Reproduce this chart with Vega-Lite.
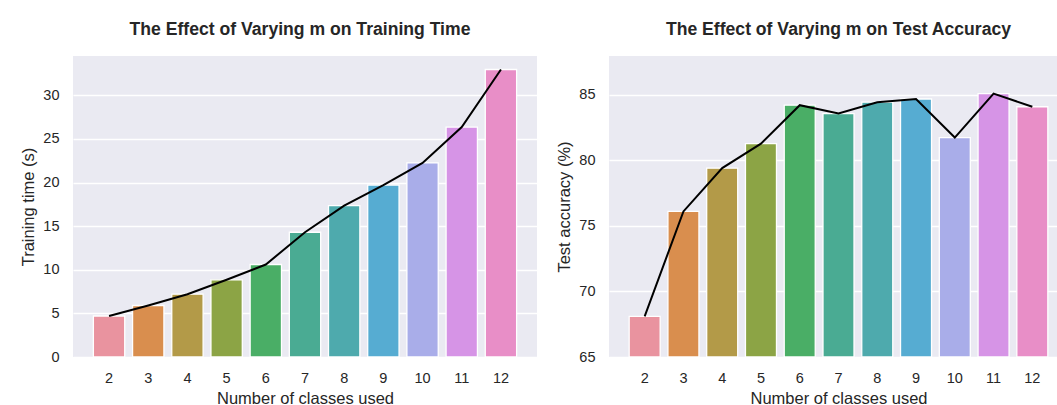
{
  "$schema": "https://vega.github.io/schema/vega-lite/v6.json",
  "padding": {"left": 20, "top": 21, "right": 0, "bottom": 0},
  "background": "white",
  "spacing": 19,
  "datasets": {
    "runs": [
      {"m": 2, "time": 4.7, "acc": 68.1},
      {"m": 3, "time": 5.9, "acc": 76.1},
      {"m": 4, "time": 7.2, "acc": 79.4},
      {"m": 5, "time": 8.85, "acc": 81.27},
      {"m": 6, "time": 10.6, "acc": 84.2},
      {"m": 7, "time": 14.3, "acc": 83.56},
      {"m": 8, "time": 17.35, "acc": 84.43},
      {"m": 9, "time": 19.7, "acc": 84.67},
      {"m": 10, "time": 22.25, "acc": 81.73},
      {"m": 11, "time": 26.35, "acc": 85.08},
      {"m": 12, "time": 32.95, "acc": 84.08}
    ]
  },
  "hconcat": [
    {
      "width": 464,
      "height": 301,
      "title": {"text": "The Effect of Varying m on Training Time", "dx": -5},
      "data": {"name": "runs"},
      "encoding": {
        "x": {
          "field": "m", "type": "ordinal", "title": "Number of classes used",
          "scale": {"paddingInner": 0.2, "paddingOuter": 0.52},
          "axis": {"labelAngle": 0}
        }
      },
      "layer": [
        {
          "mark": {"type": "bar", "stroke": "white", "strokeWidth": 1.3},
          "encoding": {
            "y": {
              "field": "time", "type": "quantitative", "title": "Training time (s)",
              "scale": {"domain": [0, 34.5], "nice": false, "zero": true},
              "axis": {"values": [0, 5, 10, 15, 20, 25, 30]}
            },
            "color": {
              "field": "m", "type": "ordinal", "legend": null,
              "scale": {
                "domain": [2, 3, 4, 5, 6, 7, 8, 9, 10, 11, 12],
                "range": ["#e9939f", "#d98e4e", "#b39a48", "#8ca445", "#4aae66", "#4aab93", "#4eaaad", "#56acd2", "#a9ade9", "#d694e6", "#e88ec7"]
              }
            }
          }
        },
        {
          "mark": {"type": "line", "color": "black", "strokeWidth": 2},
          "encoding": {
            "y": {"field": "time", "type": "quantitative"}
          }
        }
      ]
    },
    {
      "width": 459,
      "height": 301,
      "title": {"text": "The Effect of Varying m on Test Accuracy"},
      "data": {"name": "runs"},
      "encoding": {
        "x": {
          "field": "m", "type": "ordinal", "title": "Number of classes used",
          "scale": {"paddingInner": 0.2, "paddingOuter": 0.52},
          "axis": {"labelAngle": 0}
        }
      },
      "layer": [
        {
          "mark": {"type": "bar", "stroke": "white", "strokeWidth": 1.3, "clip": true},
          "encoding": {
            "y": {
              "field": "acc", "type": "quantitative", "title": "Test accuracy (%)",
              "scale": {"domain": [65, 87.95], "nice": false, "zero": false},
              "axis": {"values": [65, 70, 75, 80, 85]}
            },
            "y2": {"datum": 65},
            "color": {
              "field": "m", "type": "ordinal", "legend": null,
              "scale": {
                "domain": [2, 3, 4, 5, 6, 7, 8, 9, 10, 11, 12],
                "range": ["#e9939f", "#d98e4e", "#b39a48", "#8ca445", "#4aae66", "#4aab93", "#4eaaad", "#56acd2", "#a9ade9", "#d694e6", "#e88ec7"]
              }
            }
          }
        },
        {
          "mark": {"type": "line", "color": "black", "strokeWidth": 2},
          "encoding": {
            "y": {"field": "acc", "type": "quantitative"}
          }
        }
      ]
    }
  ],
  "config": {
    "font": "Liberation Sans",
    "view": {"fill": "#eaeaf2", "stroke": null},
    "title": {"fontSize": 17.6, "fontWeight": "bold", "color": "#262626", "anchor": "middle", "offset": 17},
    "axis": {
      "domain": false,
      "ticks": false,
      "labelFontSize": 14.5,
      "labelColor": "#262626",
      "labelPadding": 14,
      "titleFontSize": 16.5,
      "titleFontWeight": "normal",
      "titleColor": "#262626",
      "titlePadding": 6,
      "gridColor": "white",
      "gridWidth": 1.3
    },
    "axisX": {"grid": false},
    "axisY": {"grid": true}
  }
}
